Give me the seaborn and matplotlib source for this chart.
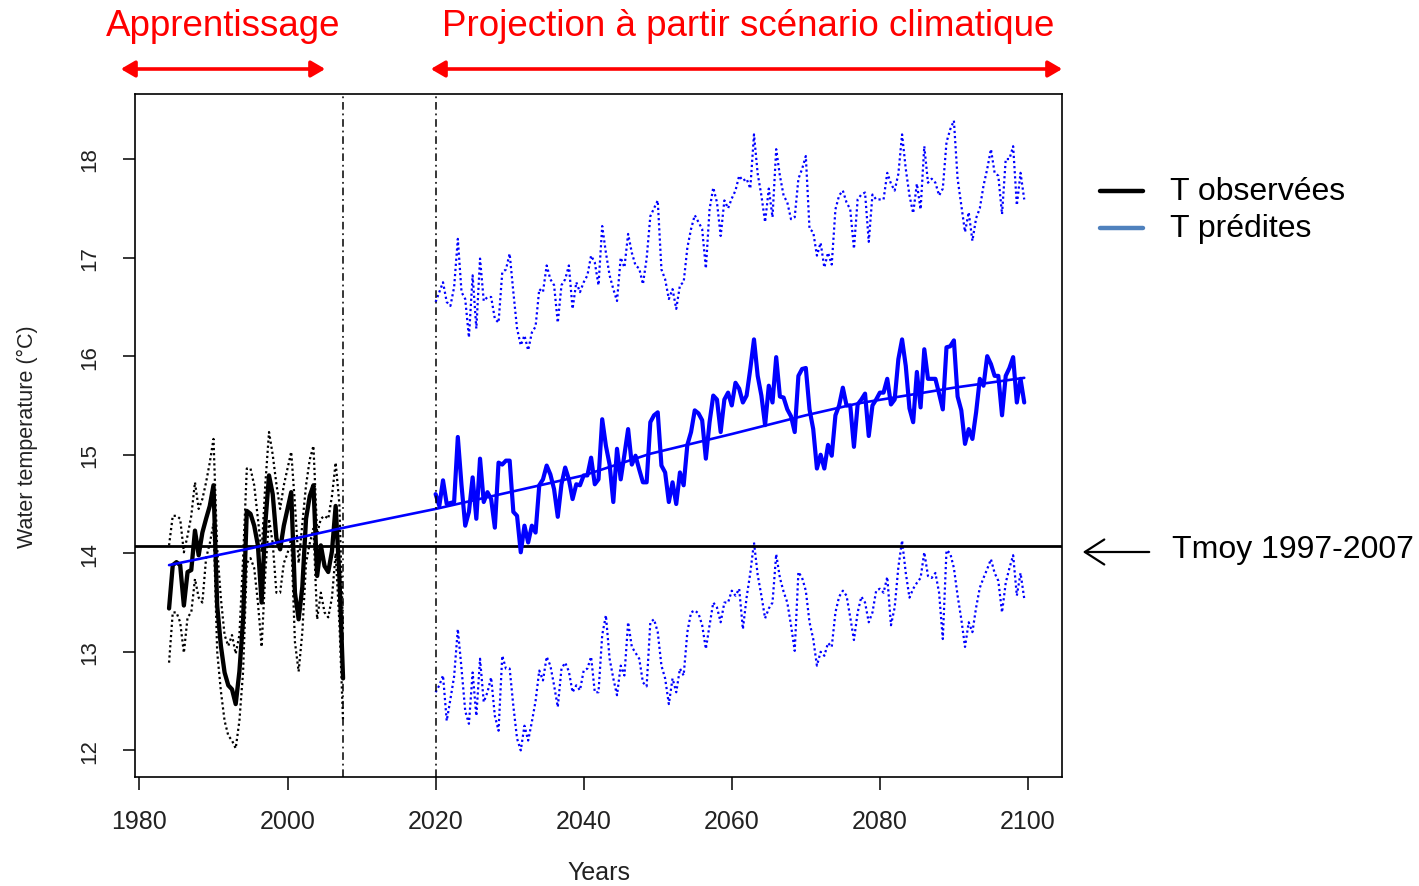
import numpy as np
import pandas as pd
import matplotlib
matplotlib.use("Agg")
import matplotlib.pyplot as plt
import seaborn as sns
from matplotlib.patches import FancyArrowPatch
from matplotlib.lines import Line2D

# ---------------------------------------------------------------
# Data (half-year steps)
# ---------------------------------------------------------------
obs_start = 1984.0
obs_temp = [13.44, 13.88, 13.91, 13.88, 13.47, 13.81, 13.83, 14.23, 13.98, 14.21,
            14.35, 14.48, 14.69, 13.47, 13.06, 12.79, 12.66, 12.62, 12.47, 12.80,
            13.33, 14.43, 14.40, 14.28, 14.08, 13.50, 14.30, 14.79, 14.60, 14.15,
            14.04, 14.28, 14.45, 14.62, 13.60, 13.33, 13.66, 14.35, 14.58, 14.69,
            13.77, 14.08, 13.87, 13.81, 14.02, 14.48, 13.77, 12.73]
obs_upper = [14.08, 14.38, 14.38, 14.35, 14.01, 14.18, 14.38, 14.72, 14.45, 14.55,
             14.72, 14.92, 15.16, 14.05, 13.54, 13.17, 13.06, 13.17, 12.98, 13.17,
             13.95, 14.86, 14.86, 14.69, 14.35, 14.01, 14.70, 15.23, 15.00, 14.70,
             14.45, 14.69, 14.86, 15.03, 14.50, 13.90, 14.30, 14.69, 14.95, 15.09,
             14.20, 14.35, 14.38, 14.35, 14.58, 14.92, 14.50, 13.20]
obs_lower = [12.89, 13.40, 13.40, 13.30, 12.99, 13.35, 13.40, 13.74, 13.55, 13.50,
             13.95, 14.10, 14.30, 13.00, 12.60, 12.30, 12.15, 12.10, 12.02, 12.30,
             12.80, 13.90, 13.95, 13.85, 13.50, 13.05, 13.80, 14.35, 14.10, 13.60,
             13.60, 13.90, 14.00, 14.15, 13.10, 12.80, 13.20, 13.90, 14.10, 14.25,
             13.33, 13.60, 13.40, 13.35, 13.55, 14.00, 13.30, 12.30]

pred_start = 2020.0
pred_temp = [14.60, 14.48, 14.74, 14.50, 14.51, 14.52, 15.18, 14.69, 14.28, 14.42,
             14.77, 14.35, 14.96, 14.52, 14.62, 14.55, 14.26, 14.92, 14.90, 14.94,
             14.94, 14.42, 14.38, 14.01, 14.28, 14.11, 14.28, 14.21, 14.69, 14.75,
             14.89, 14.80, 14.65, 14.37, 14.70, 14.87, 14.75, 14.55, 14.70, 14.69,
             14.79, 14.79, 14.97, 14.70, 14.75, 15.36, 15.09, 14.90, 14.52, 15.06,
             14.75, 15.00, 15.26, 14.90, 14.99, 14.85, 14.72, 14.72, 15.33, 15.40,
             15.43, 14.89, 14.82, 14.52, 14.72, 14.50, 14.82, 14.69, 15.10, 15.23,
             15.45, 15.42, 15.35, 14.96, 15.33, 15.60, 15.56, 15.23, 15.56, 15.63,
             15.50, 15.73, 15.67, 15.53, 15.60, 15.87, 16.17, 15.80, 15.60, 15.30,
             15.70, 15.53, 15.99, 15.59, 15.58, 15.46, 15.39, 15.23, 15.80, 15.87,
             15.88, 15.46, 15.26, 14.86, 15.00, 14.86, 15.10, 14.99, 15.40, 15.50,
             15.68, 15.50, 15.50, 15.08, 15.51, 15.56, 15.62, 15.19, 15.50, 15.56,
             15.63, 15.63, 15.77, 15.51, 15.56, 15.97, 16.17, 15.90, 15.47, 15.33,
             15.84, 15.48, 16.07, 15.77, 15.77, 15.77, 15.62, 15.46, 16.09, 16.10,
             16.16, 15.59, 15.45, 15.11, 15.26, 15.16, 15.43, 15.77, 15.70, 16.00,
             15.92, 15.80, 15.80, 15.40, 15.80, 15.88, 15.99, 15.53, 15.77, 15.53]
pred_upper = [16.55, 16.65, 16.75, 16.55, 16.51, 16.70, 17.19, 16.65, 16.58, 16.19,
              16.82, 16.28, 16.99, 16.56, 16.60, 16.60, 16.38, 16.34, 16.85, 16.88,
              17.04, 16.65, 16.28, 16.11, 16.21, 16.06, 16.24, 16.30, 16.68, 16.65,
              16.92, 16.78, 16.72, 16.34, 16.72, 16.78, 16.92, 16.48, 16.75, 16.65,
              16.75, 16.82, 17.02, 16.95, 16.72, 17.32, 17.05, 16.82, 16.68, 16.56,
              17.00, 16.90, 17.24, 17.05, 16.92, 16.89, 16.73, 16.99, 17.42, 17.50,
              17.58, 16.88, 16.78, 16.58, 16.68, 16.48, 16.72, 16.75, 17.10, 17.29,
              17.43, 17.36, 17.29, 16.89, 17.49, 17.71, 17.56, 17.22, 17.58, 17.50,
              17.60, 17.68, 17.83, 17.78, 17.80, 17.70, 18.25, 17.85, 17.63, 17.36,
              17.70, 17.41, 18.10, 17.83, 17.63, 17.56, 17.39, 17.41, 17.80, 17.90,
              18.03, 17.29, 17.26, 17.02, 17.15, 16.90, 17.05, 16.93, 17.49, 17.63,
              17.68, 17.56, 17.49, 17.09, 17.59, 17.64, 17.66, 17.16, 17.64, 17.59,
              17.59, 17.59, 17.86, 17.75, 17.68, 17.85, 18.25, 17.90, 17.63, 17.45,
              17.75, 17.49, 18.13, 17.76, 17.80, 17.76, 17.63, 17.70, 18.17, 18.30,
              18.39, 17.80, 17.53, 17.26, 17.46, 17.17, 17.40, 17.50, 17.73, 17.90,
              18.10, 17.86, 17.83, 17.44, 18.00, 18.00, 18.13, 17.53, 17.86, 17.59]
pred_lower = [12.59, 12.66, 12.76, 12.30, 12.52, 12.75, 13.23, 12.83, 12.40, 12.27,
              12.79, 12.35, 12.93, 12.49, 12.59, 12.74, 12.35, 12.20, 12.96, 12.83,
              12.83, 12.45, 12.12, 12.00, 12.25, 12.10, 12.29, 12.50, 12.81, 12.71,
              12.95, 12.86, 12.66, 12.44, 12.83, 12.89, 12.80, 12.59, 12.66, 12.61,
              12.81, 12.83, 12.95, 12.59, 12.59, 13.17, 13.37, 12.93, 12.73, 12.56,
              12.86, 12.76, 13.30, 13.05, 12.99, 12.93, 12.69, 12.65, 13.30, 13.33,
              13.20, 12.86, 12.73, 12.47, 12.73, 12.59, 12.83, 12.76, 13.20, 13.40,
              13.42, 13.39, 13.27, 13.03, 13.27, 13.50, 13.45, 13.30, 13.50, 13.50,
              13.62, 13.57, 13.64, 13.23, 13.55, 13.80, 14.11, 13.78, 13.57, 13.34,
              13.44, 13.50, 13.99, 13.75, 13.61, 13.50, 13.27, 13.01, 13.81, 13.75,
              13.62, 13.30, 13.13, 12.86, 13.00, 12.96, 13.09, 13.05, 13.40, 13.56,
              13.62, 13.57, 13.35, 13.12, 13.40, 13.56, 13.50, 13.30, 13.40, 13.62,
              13.64, 13.60, 13.76, 13.27, 13.45, 13.86, 14.13, 13.80, 13.55, 13.64,
              13.70, 13.75, 14.01, 13.77, 13.75, 13.80, 13.60, 13.13, 14.03, 14.00,
              13.85, 13.57, 13.33, 13.05, 13.30, 13.20, 13.45, 13.65, 13.75, 13.84,
              13.94, 13.80, 13.72, 13.40, 13.70, 13.85, 13.98, 13.57, 13.80, 13.54]

# long-term smooth trend
trend_years = [1984, 1995, 2007, 2020, 2030, 2040, 2049, 2060, 2070, 2077, 2090, 2099.5]
trend_temp = [13.88, 14.05, 14.25, 14.45, 14.62, 14.79, 15.01, 15.21, 15.40, 15.52, 15.68, 15.78]

t_mean_ref = 14.075          # mean 1997-2007
period_marks = [2007.5, 2020.0]
x_ticks = [1980, 2000, 2020, 2040, 2060, 2080, 2100]
y_ticks = [12, 13, 14, 15, 16, 17, 18]

obs = pd.DataFrame({"year": obs_start + 0.5 * np.arange(len(obs_temp)),
                    "temp": obs_temp, "upper": obs_upper, "lower": obs_lower})
pred = pd.DataFrame({"year": pred_start + 0.5 * np.arange(len(pred_temp)),
                     "temp": pred_temp, "upper": pred_upper, "lower": pred_lower})
trend = pd.DataFrame({"year": trend_years, "temp": trend_temp})

# ---------------------------------------------------------------
# Figure
# ---------------------------------------------------------------
sns.set_theme(style="white")
plt.rcParams["font.family"] = ["Liberation Sans", "DejaVu Sans"]

W, H = 1419, 887
fig = plt.figure(figsize=(W / 100, H / 100), dpi=100)
ax = fig.add_axes([135 / W, 1 - 778 / H, (1062 - 135) / W, (778 - 95) / H])

BLUE = "#0000FF"
dots = (0, (1.0, 1.3))


def line(df, col, **kw):
    sns.lineplot(data=df, x="year", y=col, ax=ax, estimator=None, sort=False,
                 legend=False, **kw)


line(obs, "upper", color="black", lw=1.6, linestyle=dots, zorder=2)
line(obs, "lower", color="black", lw=1.6, linestyle=dots, zorder=2)
line(pred, "upper", color=BLUE, lw=1.6, linestyle=dots, zorder=2)
line(pred, "lower", color=BLUE, lw=1.6, linestyle=dots, zorder=2)

ax.axhline(t_mean_ref, color="black", lw=2.0, zorder=2.5)
line(obs, "temp", color="black", lw=3.1, zorder=3)
line(pred, "temp", color=BLUE, lw=3.0, zorder=3.5)
line(trend, "temp", color=BLUE, lw=1.9, zorder=4)

for xv in period_marks:
    ax.axvline(xv, color="black", lw=1.1, linestyle=(0, (5, 2.5, 1.2, 2.5)), zorder=5)

ax.set_xlim(1979.4, 2104.6)
ax.set_ylim(11.73, 18.66)
ax.set_xticks(x_ticks)
ax.set_yticks(y_ticks)
ax.set_xticklabels([str(v) for v in x_ticks])
ax.set_yticklabels([str(v) for v in y_ticks], rotation=90, va="center")
ax.tick_params(axis="both", direction="out", length=9, width=1.1, color="black",
               labelcolor="#222222", bottom=True, left=True)
ax.tick_params(axis="x", labelsize=18, pad=14)
ax.tick_params(axis="y", labelsize=16, pad=16)
for s in ax.spines.values():
    s.set_visible(True)
    s.set_color("black")
    s.set_linewidth(1.2)
ax.grid(False)

ax.set_xlabel("Years", fontsize=18, color="#222222")
ax.set_ylabel("Water temperature (°C)", fontsize=15.5, color="#222222")
ax.xaxis.set_label_coords(0.5, (778 - 873) / (778 - 95))
ax.xaxis.label.set_va("center")
ax.yaxis.set_label_coords((27 - 135) / (1062 - 135), 0.5)
ax.yaxis.label.set_va("center")


def fx(px):
    return px / W


def fy(py):
    return 1 - py / H


# period headers
RED = "#FF0000"
fig.text(fx(223), fy(26), "Apprentissage", color=RED, fontsize=26.5,
         ha="center", va="center")
fig.text(fx(748), fy(26), "Projection à partir scénario climatique", color=RED,
         fontsize=26.5, ha="center", va="center")
for x0, x1 in [(118, 328), (428, 1065)]:
    fig.add_artist(FancyArrowPatch((fx(x0), fy(70)), (fx(x1), fy(70)),
                                   transform=fig.transFigure,
                                   arrowstyle="<|-|>,head_length=0.6,head_width=0.35",
                                   mutation_scale=14, color=RED, lw=2.6))

# legend
fig.add_artist(Line2D([fx(1100), fx(1143)], [fy(192), fy(192)],
                      transform=fig.transFigure, color="black", lw=3.2))
fig.add_artist(Line2D([fx(1100), fx(1143)], [fy(229), fy(229)],
                      transform=fig.transFigure, color="#4F81BD", lw=3.2))
fig.text(fx(1170), fy(192), "T observées", fontsize=23, ha="left", va="center",
         color="black")
fig.text(fx(1170), fy(229), "T prédites", fontsize=23, ha="left", va="center",
         color="black")

# reference mean annotation
fig.add_artist(FancyArrowPatch((fx(1152), fy(553)), (fx(1080), fy(553)),
                               transform=fig.transFigure,
                               arrowstyle="->,head_length=0.7,head_width=0.45",
                               mutation_scale=20, color="black", lw=1.6))
fig.text(fx(1172), fy(550), "Tmoy 1997-2007", fontsize=23, ha="left", va="center",
         color="black")

fig.savefig("out.png", dpi=100)
